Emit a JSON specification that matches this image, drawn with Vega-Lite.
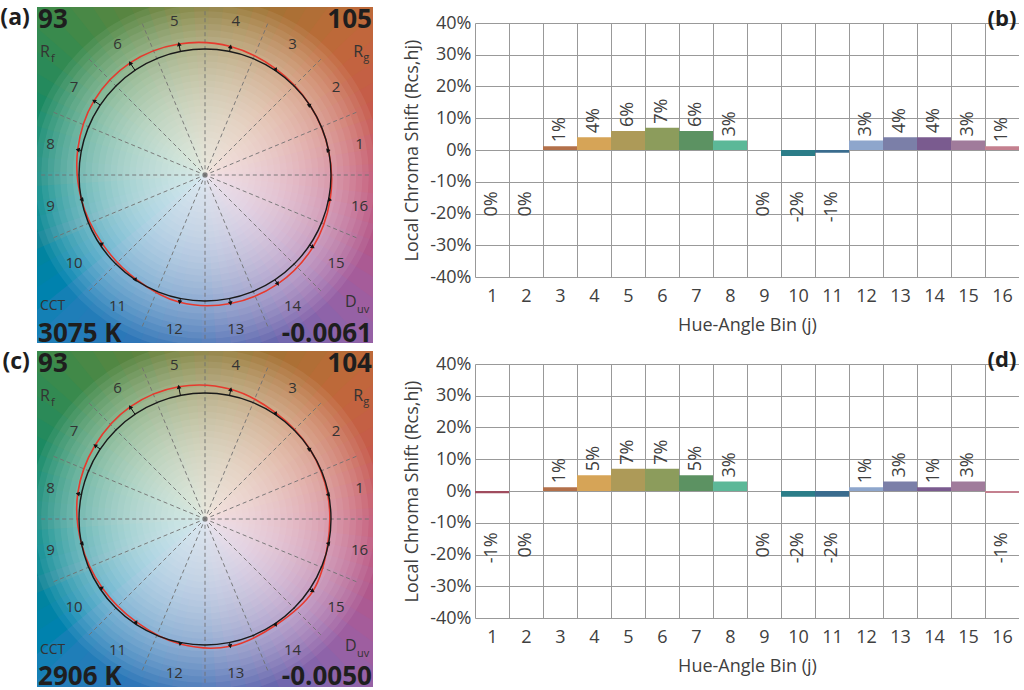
{
"$schema": "https://vega.github.io/schema/vega-lite/v6.json",
"padding": {"left": 0, "top": 7, "right": 0, "bottom": 0},
"background": "white",
"datasets": {
"bins": [
{"bin":1,"hue":11.25,"rx":0.9808,"ry":0.1951,"lx":1.2260,"ly":0.2439,"a":0,"c":-0.007,"tax":0.9808,"tay":0.1951,"tcx":0.9739,"tcy":0.1937},
{"bin":2,"hue":33.75,"rx":0.8315,"ry":0.5556,"lx":1.0393,"ly":0.6945,"a":0,"c":0,"tax":0.8315,"tay":0.5556,"tcx":0.8315,"tcy":0.5556},
{"bin":3,"hue":56.25,"rx":0.5556,"ry":0.8315,"lx":0.6945,"ly":1.0393,"a":0.012,"c":0.012,"tax":0.5622,"tay":0.8415,"tcx":0.5622,"tcy":0.8415},
{"bin":4,"hue":78.75,"rx":0.1951,"ry":0.9808,"lx":0.2439,"ly":1.2260,"a":0.04,"c":0.05,"tax":0.2029,"tay":1.0200,"tcx":0.2048,"tcy":1.0298},
{"bin":5,"hue":101.25,"rx":-0.1951,"ry":0.9808,"lx":-0.2439,"ly":1.2260,"a":0.06,"c":0.07,"tax":-0.2068,"tay":1.0396,"tcx":-0.2087,"tcy":1.0494},
{"bin":6,"hue":123.75,"rx":-0.5556,"ry":0.8315,"lx":-0.6945,"ly":1.0393,"a":0.07,"c":0.07,"tax":-0.5945,"tay":0.8897,"tcx":-0.5945,"tcy":0.8897},
{"bin":7,"hue":146.25,"rx":-0.8315,"ry":0.5556,"lx":-1.0393,"ly":0.6945,"a":0.06,"c":0.05,"tax":-0.8814,"tay":0.5889,"tcx":-0.8730,"tcy":0.5833},
{"bin":8,"hue":168.75,"rx":-0.9808,"ry":0.1951,"lx":-1.2260,"ly":0.2439,"a":0.03,"c":0.03,"tax":-1.0102,"tay":0.2009,"tcx":-1.0102,"tcy":0.2009},
{"bin":9,"hue":191.25,"rx":-0.9808,"ry":-0.1951,"lx":-1.2260,"ly":-0.2439,"a":0,"c":0,"tax":-0.9808,"tay":-0.1951,"tcx":-0.9808,"tcy":-0.1951},
{"bin":10,"hue":213.75,"rx":-0.8315,"ry":-0.5556,"lx":-1.0393,"ly":-0.6945,"a":-0.019,"c":-0.018,"tax":-0.8157,"tay":-0.5450,"tcx":-0.8165,"tcy":-0.5456},
{"bin":11,"hue":236.25,"rx":-0.5556,"ry":-0.8315,"lx":-0.6945,"ly":-1.0393,"a":-0.009,"c":-0.018,"tax":-0.5506,"tay":-0.8240,"tcx":-0.5456,"tcy":-0.8165},
{"bin":12,"hue":258.75,"rx":-0.1951,"ry":-0.9808,"lx":-0.2439,"ly":-1.2260,"a":0.03,"c":0.012,"tax":-0.2010,"tay":-1.0102,"tcx":-0.1974,"tcy":-0.9926},
{"bin":13,"hue":281.25,"rx":0.1951,"ry":-0.9808,"lx":0.2439,"ly":-1.2260,"a":0.04,"c":0.03,"tax":0.2029,"tay":-1.0200,"tcx":0.2010,"tcy":-1.0102},
{"bin":14,"hue":303.75,"rx":0.5556,"ry":-0.8315,"lx":0.6945,"ly":-1.0393,"a":0.04,"c":0.012,"tax":0.5778,"tay":-0.8647,"tcx":0.5623,"tcy":-0.8415},
{"bin":15,"hue":326.25,"rx":0.8315,"ry":-0.5556,"lx":1.0393,"ly":-0.6945,"a":0.03,"c":0.03,"tax":0.8564,"tay":-0.5722,"tcx":0.8564,"tcy":-0.5722},
{"bin":16,"hue":348.75,"rx":0.9808,"ry":-0.1951,"lx":1.2260,"ly":-0.2439,"a":0.012,"c":-0.006,"tax":0.9926,"tay":-0.1974,"tcx":0.9749,"tcy":-0.1939}
],
"spokes": [
{"ex":1.3,"ey":0},{"ex":1.2010,"ey":0.4975},{"ex":0.9192,"ey":0.9192},{"ex":0.4975,"ey":1.2010},
{"ex":0,"ey":1.3},{"ex":-0.4975,"ey":1.2010},{"ex":-0.9192,"ey":0.9192},{"ex":-1.2010,"ey":0.4975},
{"ex":-1.3,"ey":0},{"ex":-1.2010,"ey":-0.4975},{"ex":-0.9192,"ey":-0.9192},{"ex":-0.4975,"ey":-1.2010},
{"ex":0,"ey":-1.3},{"ex":0.4975,"ey":-1.2010},{"ex":0.9192,"ey":-0.9192},{"ex":1.2010,"ey":-0.4975}
],
"bg": [
{"h":2.5},{"h":7.5},{"h":12.5},{"h":17.5},{"h":22.5},{"h":27.5},{"h":32.5},{"h":37.5},{"h":42.5},{"h":47.5},{"h":52.5},{"h":57.5},
{"h":62.5},{"h":67.5},{"h":72.5},{"h":77.5},{"h":82.5},{"h":87.5},{"h":92.5},{"h":97.5},{"h":102.5},{"h":107.5},{"h":112.5},{"h":117.5},
{"h":122.5},{"h":127.5},{"h":132.5},{"h":137.5},{"h":142.5},{"h":147.5},{"h":152.5},{"h":157.5},{"h":162.5},{"h":167.5},{"h":172.5},{"h":177.5},
{"h":182.5},{"h":187.5},{"h":192.5},{"h":197.5},{"h":202.5},{"h":207.5},{"h":212.5},{"h":217.5},{"h":222.5},{"h":227.5},{"h":232.5},{"h":237.5},
{"h":242.5},{"h":247.5},{"h":252.5},{"h":257.5},{"h":262.5},{"h":267.5},{"h":272.5},{"h":277.5},{"h":282.5},{"h":287.5},{"h":292.5},{"h":297.5},
{"h":302.5},{"h":307.5},{"h":312.5},{"h":317.5},{"h":322.5},{"h":327.5},{"h":332.5},{"h":337.5},{"h":342.5},{"h":347.5},{"h":352.5},{"h":357.5}
],
"rings": [
{"r":0.05},{"r":0.1},{"r":0.15},{"r":0.2},{"r":0.25},{"r":0.3},{"r":0.35},{"r":0.4},{"r":0.45},{"r":0.5},{"r":0.55},{"r":0.6},{"r":0.65},{"r":0.7},
{"r":0.75},{"r":0.8},{"r":0.85},{"r":0.9},{"r":0.95},{"r":1.0},{"r":1.05},{"r":1.1},{"r":1.15},{"r":1.2},{"r":1.25},{"r":1.3},{"r":1.35},{"r":1.4}
]
},
"spacing": 30,
"hconcat": [
{"spacing": 4, "vconcat": [
{
"width": 336, "height": 336,
"layer": [
{"data": {"name": "bg"}, "mark": {"type": "point", "shape": "M0,0L-0.065,-1L0.065,-1Z", "size": 230400, "filled": true, "opacity": 1, "strokeWidth": 0, "clip": true},
 "encoding": {
  "x": {"datum": 0, "type": "quantitative", "scale": {"domain": [-1.3333, 1.3333], "nice": false, "zero": false}, "axis": null},
  "y": {"datum": 0, "type": "quantitative", "scale": {"domain": [-1.3333, 1.3333], "nice": false, "zero": false}, "axis": null},
  "angle": {"field": "h", "type": "quantitative", "legend": null, "scale": {"domain": [0, 360], "range": [90, -270]}},
  "fill": {"field": "h", "type": "quantitative", "legend": null, "scale": {"domain": [0,22.5,45,67.5,90,112.5,135,157.5,180,202.5,225,247.5,270,292.5,315,337.5,360], "range": ["#c0506c","#c65a4c","#c0683a","#a67235","#887a38","#5e8440","#3c8a4a","#1c8a62","#13877a","#128598","#1d7fb8","#2e76b8","#3f70b4","#6868ae","#9262a8","#b0588c","#c0506c"]}}
 }},
{"data": {"name": "rings"}, "mark": {"type": "point", "shape": "circle", "filled": true, "color": "white", "opacity": 0.068, "strokeWidth": 0, "clip": true},
 "encoding": {
  "x": {"datum": 0, "type": "quantitative", "axis": null},
  "y": {"datum": 0, "type": "quantitative", "axis": null},
  "size": {"field": "r", "type": "quantitative", "legend": null, "scale": {"type": "pow", "exponent": 2, "domain": [0, 1.4], "range": [0, 124468]}}
 }},
{"data": {"name": "spokes"}, "mark": {"type": "rule", "strokeDash": [4, 3], "color": "#707070", "strokeWidth": 0.9},
 "encoding": {
  "x": {"field": "ex", "type": "quantitative", "axis": null},
  "y": {"field": "ey", "type": "quantitative", "axis": null},
  "x2": {"datum": 0}, "y2": {"datum": 0}
 }},
{"data": {"name": "bins"}, "mark": {"type": "line", "interpolate": "cardinal-closed", "color": "#e63a2e", "strokeWidth": 1.6},
 "encoding": {
  "x": {"field": "tax", "type": "quantitative", "axis": null},
  "y": {"field": "tay", "type": "quantitative", "axis": null},
  "order": {"field": "bin", "type": "quantitative"}
 }},
{"data": {"values": [{"k": 1}]}, "mark": {"type": "point", "shape": "circle", "size": 63504, "filled": false, "stroke": "#1a1a1a", "strokeWidth": 1.4, "opacity": 1},
 "encoding": {"x": {"datum": 0, "type": "quantitative", "axis": null}, "y": {"datum": 0, "type": "quantitative", "axis": null}}},
{"data": {"name": "bins"}, "mark": {"type": "rule", "color": "#111", "strokeWidth": 1},
 "encoding": {
  "x": {"field": "rx", "type": "quantitative", "axis": null}, "y": {"field": "ry", "type": "quantitative", "axis": null},
  "x2": {"field": "tax"}, "y2": {"field": "tay"}
 }},
{"data": {"name": "bins"}, "mark": {"type": "point", "filled": true, "color": "#111", "size": 22, "opacity": 1},
 "encoding": {
  "x": {"field": "tax", "type": "quantitative", "axis": null}, "y": {"field": "tay", "type": "quantitative", "axis": null},
  "shape": {"condition": {"test": "datum.a < 0", "value": "triangle-down"}, "value": "triangle-up"},
  "angle": {"field": "hue", "type": "quantitative", "legend": null}
 }},
{"data": {"name": "bins"}, "mark": {"type": "text", "fontSize": 15, "color": "#333333"},
 "encoding": {
  "x": {"field": "lx", "type": "quantitative", "axis": null}, "y": {"field": "ly", "type": "quantitative", "axis": null},
  "text": {"field": "bin", "type": "nominal"}
 }},
{"data": {"values": [{}]}, "mark": {"type": "text", "text": "(a)", "align": "right", "baseline": "top", "fontSize": 23, "fontWeight": "bold", "color": "#1e1e1e"},
 "encoding": {"x": {"datum": -1.39, "type": "quantitative", "axis": null}, "y": {"datum": 1.3333, "type": "quantitative", "axis": null}}},
{"data": {"values": [{}]}, "mark": {"type": "text", "text": "93", "align": "left", "baseline": "top", "fontSize": 26, "fontWeight": "bold", "color": "#1e1e1e"},
 "encoding": {"x": {"datum": -1.325, "type": "quantitative", "axis": null}, "y": {"datum": 1.3333, "type": "quantitative", "axis": null}}},
{"data": {"values": [{}]}, "mark": {"type": "text", "text": "105", "align": "right", "baseline": "top", "fontSize": 26, "fontWeight": "bold", "color": "#1e1e1e"},
 "encoding": {"x": {"datum": 1.325, "type": "quantitative", "axis": null}, "y": {"datum": 1.3333, "type": "quantitative", "axis": null}}},
{"data": {"values": [{}]}, "mark": {"type": "text", "text": "R", "align": "left", "baseline": "alphabetic", "fontSize": 16, "color": "#333333"},
 "encoding": {"x": {"datum": -1.31, "type": "quantitative", "axis": null}, "y": {"datum": 0.937, "type": "quantitative", "axis": null}}},
{"data": {"values": [{}]}, "mark": {"type": "text", "text": "f", "align": "left", "baseline": "alphabetic", "fontSize": 11, "color": "#333333"},
 "encoding": {"x": {"datum": -1.222, "type": "quantitative", "axis": null}, "y": {"datum": 0.897, "type": "quantitative", "axis": null}}},
{"data": {"values": [{}]}, "mark": {"type": "text", "text": "R", "align": "right", "baseline": "alphabetic", "fontSize": 16, "color": "#333333"},
 "encoding": {"x": {"datum": 1.254, "type": "quantitative", "axis": null}, "y": {"datum": 0.937, "type": "quantitative", "axis": null}}},
{"data": {"values": [{}]}, "mark": {"type": "text", "text": "g", "align": "left", "baseline": "alphabetic", "fontSize": 11, "color": "#333333"},
 "encoding": {"x": {"datum": 1.256, "type": "quantitative", "axis": null}, "y": {"datum": 0.905, "type": "quantitative", "axis": null}}},
{"data": {"values": [{}]}, "mark": {"type": "text", "text": "CCT", "align": "left", "baseline": "alphabetic", "fontSize": 14, "color": "#333333"},
 "encoding": {"x": {"datum": -1.31, "type": "quantitative", "axis": null}, "y": {"datum": -1.07, "type": "quantitative", "axis": null}}},
{"data": {"values": [{}]}, "mark": {"type": "text", "text": "3075 K", "align": "left", "baseline": "alphabetic", "fontSize": 26, "fontWeight": "bold", "color": "#1e1e1e"},
 "encoding": {"x": {"datum": -1.325, "type": "quantitative", "axis": null}, "y": {"datum": -1.325, "type": "quantitative", "axis": null}}},
{"data": {"values": [{}]}, "mark": {"type": "text", "text": "D", "align": "left", "baseline": "alphabetic", "fontSize": 16, "color": "#333333"},
 "encoding": {"x": {"datum": 1.111, "type": "quantitative", "axis": null}, "y": {"datum": -1.05, "type": "quantitative", "axis": null}}},
{"data": {"values": [{}]}, "mark": {"type": "text", "text": "uv", "align": "left", "baseline": "alphabetic", "fontSize": 11, "color": "#333333"},
 "encoding": {"x": {"datum": 1.206, "type": "quantitative", "axis": null}, "y": {"datum": -1.095, "type": "quantitative", "axis": null}}},
{"data": {"values": [{}]}, "mark": {"type": "text", "text": "-0.0061", "align": "right", "baseline": "alphabetic", "fontSize": 26, "fontWeight": "bold", "color": "#1e1e1e"},
 "encoding": {"x": {"datum": 1.325, "type": "quantitative", "axis": null}, "y": {"datum": -1.325, "type": "quantitative", "axis": null}}}
]
},
{
"width": 336, "height": 336,
"layer": [
{"data": {"name": "bg"}, "mark": {"type": "point", "shape": "M0,0L-0.065,-1L0.065,-1Z", "size": 230400, "filled": true, "opacity": 1, "strokeWidth": 0, "clip": true},
 "encoding": {
  "x": {"datum": 0, "type": "quantitative", "scale": {"domain": [-1.3333, 1.3333], "nice": false, "zero": false}, "axis": null},
  "y": {"datum": 0, "type": "quantitative", "scale": {"domain": [-1.3333, 1.3333], "nice": false, "zero": false}, "axis": null},
  "angle": {"field": "h", "type": "quantitative", "legend": null, "scale": {"domain": [0, 360], "range": [90, -270]}},
  "fill": {"field": "h", "type": "quantitative", "legend": null, "scale": {"domain": [0,22.5,45,67.5,90,112.5,135,157.5,180,202.5,225,247.5,270,292.5,315,337.5,360], "range": ["#c0506c","#c65a4c","#c0683a","#a67235","#887a38","#5e8440","#3c8a4a","#1c8a62","#13877a","#128598","#1d7fb8","#2e76b8","#3f70b4","#6868ae","#9262a8","#b0588c","#c0506c"]}}
 }},
{"data": {"name": "rings"}, "mark": {"type": "point", "shape": "circle", "filled": true, "color": "white", "opacity": 0.068, "strokeWidth": 0, "clip": true},
 "encoding": {
  "x": {"datum": 0, "type": "quantitative", "axis": null},
  "y": {"datum": 0, "type": "quantitative", "axis": null},
  "size": {"field": "r", "type": "quantitative", "legend": null, "scale": {"type": "pow", "exponent": 2, "domain": [0, 1.4], "range": [0, 124468]}}
 }},
{"data": {"name": "spokes"}, "mark": {"type": "rule", "strokeDash": [4, 3], "color": "#707070", "strokeWidth": 0.9},
 "encoding": {
  "x": {"field": "ex", "type": "quantitative", "axis": null},
  "y": {"field": "ey", "type": "quantitative", "axis": null},
  "x2": {"datum": 0}, "y2": {"datum": 0}
 }},
{"data": {"name": "bins"}, "mark": {"type": "line", "interpolate": "cardinal-closed", "color": "#e63a2e", "strokeWidth": 1.6},
 "encoding": {
  "x": {"field": "tcx", "type": "quantitative", "axis": null},
  "y": {"field": "tcy", "type": "quantitative", "axis": null},
  "order": {"field": "bin", "type": "quantitative"}
 }},
{"data": {"values": [{"k": 1}]}, "mark": {"type": "point", "shape": "circle", "size": 63504, "filled": false, "stroke": "#1a1a1a", "strokeWidth": 1.4, "opacity": 1},
 "encoding": {"x": {"datum": 0, "type": "quantitative", "axis": null}, "y": {"datum": 0, "type": "quantitative", "axis": null}}},
{"data": {"name": "bins"}, "mark": {"type": "rule", "color": "#111", "strokeWidth": 1},
 "encoding": {
  "x": {"field": "rx", "type": "quantitative", "axis": null}, "y": {"field": "ry", "type": "quantitative", "axis": null},
  "x2": {"field": "tcx"}, "y2": {"field": "tcy"}
 }},
{"data": {"name": "bins"}, "mark": {"type": "point", "filled": true, "color": "#111", "size": 22, "opacity": 1},
 "encoding": {
  "x": {"field": "tcx", "type": "quantitative", "axis": null}, "y": {"field": "tcy", "type": "quantitative", "axis": null},
  "shape": {"condition": {"test": "datum.c < 0", "value": "triangle-down"}, "value": "triangle-up"},
  "angle": {"field": "hue", "type": "quantitative", "legend": null}
 }},
{"data": {"name": "bins"}, "mark": {"type": "text", "fontSize": 15, "color": "#333333"},
 "encoding": {
  "x": {"field": "lx", "type": "quantitative", "axis": null}, "y": {"field": "ly", "type": "quantitative", "axis": null},
  "text": {"field": "bin", "type": "nominal"}
 }},
{"data": {"values": [{}]}, "mark": {"type": "text", "text": "(c)", "align": "right", "baseline": "top", "fontSize": 23, "fontWeight": "bold", "color": "#1e1e1e"},
 "encoding": {"x": {"datum": -1.39, "type": "quantitative", "axis": null}, "y": {"datum": 1.3333, "type": "quantitative", "axis": null}}},
{"data": {"values": [{}]}, "mark": {"type": "text", "text": "93", "align": "left", "baseline": "top", "fontSize": 26, "fontWeight": "bold", "color": "#1e1e1e"},
 "encoding": {"x": {"datum": -1.325, "type": "quantitative", "axis": null}, "y": {"datum": 1.3333, "type": "quantitative", "axis": null}}},
{"data": {"values": [{}]}, "mark": {"type": "text", "text": "104", "align": "right", "baseline": "top", "fontSize": 26, "fontWeight": "bold", "color": "#1e1e1e"},
 "encoding": {"x": {"datum": 1.325, "type": "quantitative", "axis": null}, "y": {"datum": 1.3333, "type": "quantitative", "axis": null}}},
{"data": {"values": [{}]}, "mark": {"type": "text", "text": "R", "align": "left", "baseline": "alphabetic", "fontSize": 16, "color": "#333333"},
 "encoding": {"x": {"datum": -1.31, "type": "quantitative", "axis": null}, "y": {"datum": 0.937, "type": "quantitative", "axis": null}}},
{"data": {"values": [{}]}, "mark": {"type": "text", "text": "f", "align": "left", "baseline": "alphabetic", "fontSize": 11, "color": "#333333"},
 "encoding": {"x": {"datum": -1.222, "type": "quantitative", "axis": null}, "y": {"datum": 0.897, "type": "quantitative", "axis": null}}},
{"data": {"values": [{}]}, "mark": {"type": "text", "text": "R", "align": "right", "baseline": "alphabetic", "fontSize": 16, "color": "#333333"},
 "encoding": {"x": {"datum": 1.254, "type": "quantitative", "axis": null}, "y": {"datum": 0.937, "type": "quantitative", "axis": null}}},
{"data": {"values": [{}]}, "mark": {"type": "text", "text": "g", "align": "left", "baseline": "alphabetic", "fontSize": 11, "color": "#333333"},
 "encoding": {"x": {"datum": 1.256, "type": "quantitative", "axis": null}, "y": {"datum": 0.905, "type": "quantitative", "axis": null}}},
{"data": {"values": [{}]}, "mark": {"type": "text", "text": "CCT", "align": "left", "baseline": "alphabetic", "fontSize": 14, "color": "#333333"},
 "encoding": {"x": {"datum": -1.31, "type": "quantitative", "axis": null}, "y": {"datum": -1.07, "type": "quantitative", "axis": null}}},
{"data": {"values": [{}]}, "mark": {"type": "text", "text": "2906 K", "align": "left", "baseline": "alphabetic", "fontSize": 26, "fontWeight": "bold", "color": "#1e1e1e"},
 "encoding": {"x": {"datum": -1.325, "type": "quantitative", "axis": null}, "y": {"datum": -1.315, "type": "quantitative", "axis": null}}},
{"data": {"values": [{}]}, "mark": {"type": "text", "text": "D", "align": "left", "baseline": "alphabetic", "fontSize": 16, "color": "#333333"},
 "encoding": {"x": {"datum": 1.111, "type": "quantitative", "axis": null}, "y": {"datum": -1.05, "type": "quantitative", "axis": null}}},
{"data": {"values": [{}]}, "mark": {"type": "text", "text": "uv", "align": "left", "baseline": "alphabetic", "fontSize": 11, "color": "#333333"},
 "encoding": {"x": {"datum": 1.206, "type": "quantitative", "axis": null}, "y": {"datum": -1.095, "type": "quantitative", "axis": null}}},
{"data": {"values": [{}]}, "mark": {"type": "text", "text": "-0.0050", "align": "right", "baseline": "alphabetic", "fontSize": 26, "fontWeight": "bold", "color": "#1e1e1e"},
 "encoding": {"x": {"datum": 1.325, "type": "quantitative", "axis": null}, "y": {"datum": -1.315, "type": "quantitative", "axis": null}}}
]
}
]},
{"spacing": 0, "vconcat": [
{"width": 1, "height": 1, "data": {"values": [{}]}, "mark": {"type": "point", "size": 0, "opacity": 0}},
{"spacing": 15, "vconcat": [
{
"width": 544, "height": 254,
"data": {"name": "bins"},
"layer": [
{"mark": {"type": "bar"},
 "encoding": {
  "x": {"field": "bin", "type": "ordinal", "scale": {"paddingInner": 0, "paddingOuter": 0},
        "axis": {"title": "Hue-Angle Bin (j)", "labelAngle": 0, "ticks": false, "tickSize": 0, "tickBand": "extent", "grid": true, "gridColor": "#999999", "domain": false, "labelFontSize": 18, "labelFont": "Open Sans", "labelColor": "#404040", "labelPadding": 10, "titleFontSize": 18, "titleFont": "Open Sans", "titleColor": "#404040", "titleFontWeight": "normal", "titlePadding": 11}},
  "y": {"field": "a", "type": "quantitative", "scale": {"domain": [-0.4, 0.4], "nice": false},
        "axis": {"title": "Local Chroma Shift (Rcs,hj)", "format": ".0%", "values": [-0.4,-0.3,-0.2,-0.1,0,0.1,0.2,0.3,0.4], "labelOverlap": false, "ticks": false, "tickSize": 0, "grid": true, "gridColor": "#999999", "domain": false, "labelFontSize": 18, "labelFont": "Open Sans", "labelColor": "#404040", "labelPadding": 4, "titleFontSize": 18, "titleFont": "Open Sans", "titleColor": "#404040", "titleFontWeight": "normal", "titlePadding": 8}},
  "color": {"field": "bin", "type": "nominal", "legend": null, "scale": {"domain": [1,2,3,4,5,6,7,8,9,10,11,12,13,14,15,16], "range": ["#a04c5e","#b55a4a","#b3704a","#d6a457","#ad9a58","#8c9c5c","#5c9262","#5cb898","#2a9a9a","#2b7d88","#3a6c8e","#8ea6cc","#7b7fa8","#7a5b8f","#a07b9b","#c4808f"]}}
 }},
{"transform": [{"filter": "datum.a > 0"}],
 "mark": {"type": "text", "angle": 270, "align": "left", "baseline": "middle", "dx": 4, "fontSize": 18, "font": "Open Sans", "color": "#404040"},
 "encoding": {
  "x": {"field": "bin", "type": "ordinal", "axis": {"title": "Hue-Angle Bin (j)", "labelAngle": 0, "ticks": false, "tickSize": 0, "tickBand": "extent", "grid": true, "gridColor": "#999999", "domain": false, "labelFontSize": 18, "labelFont": "Open Sans", "labelColor": "#404040", "labelPadding": 10, "titleFontSize": 18, "titleFont": "Open Sans", "titleColor": "#404040", "titleFontWeight": "normal", "titlePadding": 11}},
  "y": {"field": "a", "type": "quantitative", "axis": {"title": "Local Chroma Shift (Rcs,hj)", "format": ".0%", "values": [-0.4,-0.3,-0.2,-0.1,0,0.1,0.2,0.3,0.4], "labelOverlap": false, "ticks": false, "tickSize": 0, "grid": true, "gridColor": "#999999", "domain": false, "labelFontSize": 18, "labelFont": "Open Sans", "labelColor": "#404040", "labelPadding": 4, "titleFontSize": 18, "titleFont": "Open Sans", "titleColor": "#404040", "titleFontWeight": "normal", "titlePadding": 8}},
  "text": {"field": "a", "type": "quantitative", "format": ".0%"}}},
{"transform": [{"filter": "datum.a <= 0"}],
 "mark": {"type": "text", "angle": 270, "align": "right", "baseline": "middle", "fontSize": 18, "font": "Open Sans", "color": "#404040"},
 "encoding": {
  "x": {"field": "bin", "type": "ordinal", "axis": {"title": "Hue-Angle Bin (j)", "labelAngle": 0, "ticks": false, "tickSize": 0, "tickBand": "extent", "grid": true, "gridColor": "#999999", "domain": false, "labelFontSize": 18, "labelFont": "Open Sans", "labelColor": "#404040", "labelPadding": 10, "titleFontSize": 18, "titleFont": "Open Sans", "titleColor": "#404040", "titleFontWeight": "normal", "titlePadding": 11}},
  "y": {"datum": -0.13, "type": "quantitative", "axis": {"title": "Local Chroma Shift (Rcs,hj)", "format": ".0%", "values": [-0.4,-0.3,-0.2,-0.1,0,0.1,0.2,0.3,0.4], "labelOverlap": false, "ticks": false, "tickSize": 0, "grid": true, "gridColor": "#999999", "domain": false, "labelFontSize": 18, "labelFont": "Open Sans", "labelColor": "#404040", "labelPadding": 4, "titleFontSize": 18, "titleFont": "Open Sans", "titleColor": "#404040", "titleFontWeight": "normal", "titlePadding": 8}},
  "text": {"field": "a", "type": "quantitative", "format": ".0%"}}},
{"data": {"values": [{}]},
 "mark": {"type": "text", "text": "(b)", "align": "center", "baseline": "bottom", "dy": 8, "fontSize": 22, "fontWeight": "bold", "font": "Open Sans", "color": "#1e1e1e"},
 "encoding": {
  "x": {"datum": 16, "type": "ordinal", "axis": {"title": "Hue-Angle Bin (j)", "labelAngle": 0, "ticks": false, "tickSize": 0, "tickBand": "extent", "grid": true, "gridColor": "#999999", "domain": false, "labelFontSize": 18, "labelFont": "Open Sans", "labelColor": "#404040", "labelPadding": 10, "titleFontSize": 18, "titleFont": "Open Sans", "titleColor": "#404040", "titleFontWeight": "normal", "titlePadding": 11}},
  "y": {"datum": 0.4, "type": "quantitative", "axis": {"title": "Local Chroma Shift (Rcs,hj)", "format": ".0%", "values": [-0.4,-0.3,-0.2,-0.1,0,0.1,0.2,0.3,0.4], "labelOverlap": false, "ticks": false, "tickSize": 0, "grid": true, "gridColor": "#999999", "domain": false, "labelFontSize": 18, "labelFont": "Open Sans", "labelColor": "#404040", "labelPadding": 4, "titleFontSize": 18, "titleFont": "Open Sans", "titleColor": "#404040", "titleFontWeight": "normal", "titlePadding": 8}}}}
]
},
{
"width": 544, "height": 254,
"data": {"name": "bins"},
"layer": [
{"mark": {"type": "bar"},
 "encoding": {
  "x": {"field": "bin", "type": "ordinal", "scale": {"paddingInner": 0, "paddingOuter": 0},
        "axis": {"title": "Hue-Angle Bin (j)", "labelAngle": 0, "ticks": false, "tickSize": 0, "tickBand": "extent", "grid": true, "gridColor": "#999999", "domain": false, "labelFontSize": 18, "labelFont": "Open Sans", "labelColor": "#404040", "labelPadding": 10, "titleFontSize": 18, "titleFont": "Open Sans", "titleColor": "#404040", "titleFontWeight": "normal", "titlePadding": 11}},
  "y": {"field": "c", "type": "quantitative", "scale": {"domain": [-0.4, 0.4], "nice": false},
        "axis": {"title": "Local Chroma Shift (Rcs,hj)", "format": ".0%", "values": [-0.4,-0.3,-0.2,-0.1,0,0.1,0.2,0.3,0.4], "labelOverlap": false, "ticks": false, "tickSize": 0, "grid": true, "gridColor": "#999999", "domain": false, "labelFontSize": 18, "labelFont": "Open Sans", "labelColor": "#404040", "labelPadding": 4, "titleFontSize": 18, "titleFont": "Open Sans", "titleColor": "#404040", "titleFontWeight": "normal", "titlePadding": 8}},
  "color": {"field": "bin", "type": "nominal", "legend": null, "scale": {"domain": [1,2,3,4,5,6,7,8,9,10,11,12,13,14,15,16], "range": ["#a04c5e","#b55a4a","#b3704a","#d6a457","#ad9a58","#8c9c5c","#5c9262","#5cb898","#2a9a9a","#2b7d88","#3a6c8e","#8ea6cc","#7b7fa8","#7a5b8f","#a07b9b","#c4808f"]}}
 }},
{"transform": [{"filter": "datum.c > 0"}],
 "mark": {"type": "text", "angle": 270, "align": "left", "baseline": "middle", "dx": 4, "fontSize": 18, "font": "Open Sans", "color": "#404040"},
 "encoding": {
  "x": {"field": "bin", "type": "ordinal", "axis": {"title": "Hue-Angle Bin (j)", "labelAngle": 0, "ticks": false, "tickSize": 0, "tickBand": "extent", "grid": true, "gridColor": "#999999", "domain": false, "labelFontSize": 18, "labelFont": "Open Sans", "labelColor": "#404040", "labelPadding": 10, "titleFontSize": 18, "titleFont": "Open Sans", "titleColor": "#404040", "titleFontWeight": "normal", "titlePadding": 11}},
  "y": {"field": "c", "type": "quantitative", "axis": {"title": "Local Chroma Shift (Rcs,hj)", "format": ".0%", "values": [-0.4,-0.3,-0.2,-0.1,0,0.1,0.2,0.3,0.4], "labelOverlap": false, "ticks": false, "tickSize": 0, "grid": true, "gridColor": "#999999", "domain": false, "labelFontSize": 18, "labelFont": "Open Sans", "labelColor": "#404040", "labelPadding": 4, "titleFontSize": 18, "titleFont": "Open Sans", "titleColor": "#404040", "titleFontWeight": "normal", "titlePadding": 8}},
  "text": {"field": "c", "type": "quantitative", "format": ".0%"}}},
{"transform": [{"filter": "datum.c <= 0"}],
 "mark": {"type": "text", "angle": 270, "align": "right", "baseline": "middle", "fontSize": 18, "font": "Open Sans", "color": "#404040"},
 "encoding": {
  "x": {"field": "bin", "type": "ordinal", "axis": {"title": "Hue-Angle Bin (j)", "labelAngle": 0, "ticks": false, "tickSize": 0, "tickBand": "extent", "grid": true, "gridColor": "#999999", "domain": false, "labelFontSize": 18, "labelFont": "Open Sans", "labelColor": "#404040", "labelPadding": 10, "titleFontSize": 18, "titleFont": "Open Sans", "titleColor": "#404040", "titleFontWeight": "normal", "titlePadding": 11}},
  "y": {"datum": -0.13, "type": "quantitative", "axis": {"title": "Local Chroma Shift (Rcs,hj)", "format": ".0%", "values": [-0.4,-0.3,-0.2,-0.1,0,0.1,0.2,0.3,0.4], "labelOverlap": false, "ticks": false, "tickSize": 0, "grid": true, "gridColor": "#999999", "domain": false, "labelFontSize": 18, "labelFont": "Open Sans", "labelColor": "#404040", "labelPadding": 4, "titleFontSize": 18, "titleFont": "Open Sans", "titleColor": "#404040", "titleFontWeight": "normal", "titlePadding": 8}},
  "text": {"field": "c", "type": "quantitative", "format": ".0%"}}},
{"data": {"values": [{}]},
 "mark": {"type": "text", "text": "(d)", "align": "center", "baseline": "bottom", "dy": 8, "fontSize": 22, "fontWeight": "bold", "font": "Open Sans", "color": "#1e1e1e"},
 "encoding": {
  "x": {"datum": 16, "type": "ordinal", "axis": {"title": "Hue-Angle Bin (j)", "labelAngle": 0, "ticks": false, "tickSize": 0, "tickBand": "extent", "grid": true, "gridColor": "#999999", "domain": false, "labelFontSize": 18, "labelFont": "Open Sans", "labelColor": "#404040", "labelPadding": 10, "titleFontSize": 18, "titleFont": "Open Sans", "titleColor": "#404040", "titleFontWeight": "normal", "titlePadding": 11}},
  "y": {"datum": 0.4, "type": "quantitative", "axis": {"title": "Local Chroma Shift (Rcs,hj)", "format": ".0%", "values": [-0.4,-0.3,-0.2,-0.1,0,0.1,0.2,0.3,0.4], "labelOverlap": false, "ticks": false, "tickSize": 0, "grid": true, "gridColor": "#999999", "domain": false, "labelFontSize": 18, "labelFont": "Open Sans", "labelColor": "#404040", "labelPadding": 4, "titleFontSize": 18, "titleFont": "Open Sans", "titleColor": "#404040", "titleFontWeight": "normal", "titlePadding": 8}}}}
]
}
]}
]}
],
"config": {
 "view": {"stroke": null},
 "font": "Open Sans",
 "text": {"font": "Open Sans"},
 "locale": {"number": {"decimal": ".", "thousands": ",", "grouping": [3], "currency": ["$", ""], "minus": "-"}}
}
}
